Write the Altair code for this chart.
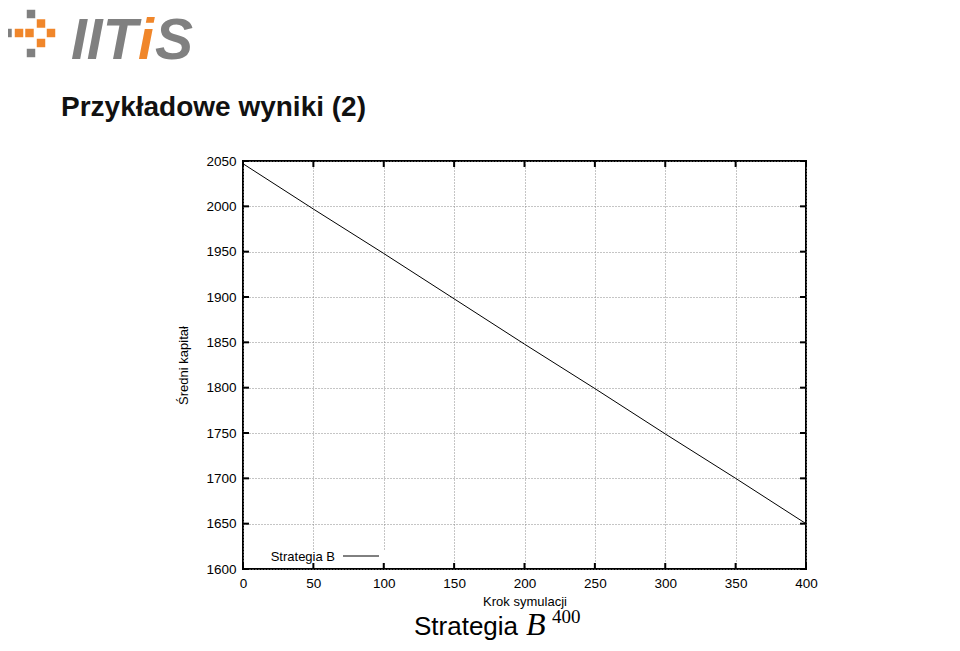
import altair as alt
import pandas as pd

# ---- data ----
steps = [0, 50, 100, 150, 200, 250, 300, 350, 400]
capital = [2047, 1997, 1948, 1898, 1848, 1799, 1749, 1700, 1650]
x_ticks = [0, 50, 100, 150, 200, 250, 300, 350, 400]
y_ticks = [1600, 1650, 1700, 1750, 1800, 1850, 1900, 1950, 2000, 2050]
series_name = "Strategia B"
title_text = "Przykładowe wyniki (2)"
x_title = "Krok symulacji"
y_title = "Średni kapitał"
caption_word = "Strategia"
caption_sym = "B"
caption_sup = "400"

W, H = 563, 408
FONT = "Liberation Sans"

df = pd.DataFrame({"step": steps, "capital": capital})
xt = pd.DataFrame({"step": x_ticks})
yt = pd.DataFrame({"capital": y_ticks})
one = pd.DataFrame({"a": [0]})

xscale = alt.Scale(domain=[0, 400], nice=False, zero=False)
yscale = alt.Scale(domain=[1600, 2050], nice=False, zero=False)
x_axis = alt.Axis(values=x_ticks, title=x_title, format="d", labelFlush=False,
                  labelPadding=7, titlePadding=6, grid=True)
y_axis = alt.Axis(values=y_ticks, title=y_title, format="d", labelFlush=False,
                  labelPadding=7, titlePadding=15, grid=True)

X = alt.X("step:Q", scale=xscale, axis=x_axis)
Y = alt.Y("capital:Q", scale=yscale, axis=y_axis)

line = alt.Chart(df).mark_line(color="black", strokeWidth=1).encode(x=X, y=Y)

# white key background (gnuplot key area)
key_bg = alt.Chart(one).mark_rect(color="white").encode(
    x=alt.value(22), x2=alt.value(146), y=alt.value(390), y2=alt.value(402)
)

# inward ticks, gnuplot style (mirrored)
tick_style = dict(color="black", strokeWidth=2)
yl = alt.Chart(yt).mark_rule(**tick_style).encode(y=Y, x=alt.value(0), x2=alt.value(6))
yr = alt.Chart(yt).mark_rule(**tick_style).encode(y=Y, x=alt.value(W - 6), x2=alt.value(W))
xb = alt.Chart(xt).mark_rule(**tick_style).encode(x=X, y=alt.value(H - 6), y2=alt.value(H))
xtp = alt.Chart(xt).mark_rule(**tick_style).encode(x=X, y=alt.value(0), y2=alt.value(6))

# key
key_text = alt.Chart(one).mark_text(
    text=series_name, font=FONT, fontSize=13, align="right", baseline="alphabetic",
    color="black").encode(x=alt.value(92), y=alt.value(400))
key_line = alt.Chart(one).mark_rule(color="black", strokeWidth=1).encode(
    x=alt.value(100), x2=alt.value(136), y=alt.value(395))

# slide title
title = alt.Chart(one).mark_text(
    text=title_text, font=FONT, fontSize=28, fontWeight="bold", align="left",
    baseline="alphabetic", color="#111111").encode(x=alt.value(-182), y=alt.value(-45))

# caption under chart
cap1 = alt.Chart(one).mark_text(
    text=caption_word, font=FONT, fontSize=26, align="left", baseline="alphabetic",
    color="black").encode(x=alt.value(171), y=alt.value(474))
cap2 = alt.Chart(one).mark_text(
    text=caption_sym, font="Liberation Serif", fontSize=32, fontStyle="italic",
    align="left", baseline="alphabetic", color="black").encode(x=alt.value(283), y=alt.value(474))
cap3 = alt.Chart(one).mark_text(
    text=caption_sup, font="Liberation Serif", fontSize=19, align="left",
    baseline="alphabetic", color="black").encode(x=alt.value(309), y=alt.value(462))

# logo (decoration)
GRAY = "#808080"
ORANGE = "#f0862a"
cells = [(31, 14, GRAY), (41, 23.5, ORANGE), (7.5, 33, GRAY), (19, 33, ORANGE),
         (29.5, 33, ORANGE), (51, 33, ORANGE), (41, 43, ORANGE), (31, 53, GRAY)]
logo_layers = []
for cx, cy, col in cells:
    logo_layers.append(
        alt.Chart(one).mark_square(size=72, color=col, opacity=1, filled=True).encode(
            x=alt.value(cx - 243), y=alt.value(cy - 161)))
logo_font = dict(font=FONT, fontSize=57, fontWeight="bold", fontStyle="italic",
                 align="left", baseline="alphabetic")
logo_layers.append(alt.Chart(one).mark_text(text="IIT", color=GRAY, **logo_font).encode(
    x=alt.value(-172), y=alt.value(-102)))
logo_layers.append(alt.Chart(one).mark_text(text="i", color=ORANGE, **logo_font).encode(
    x=alt.value(-105), y=alt.value(-102)))
logo_layers.append(alt.Chart(one).mark_text(text="S", color=GRAY, **logo_font).encode(
    x=alt.value(-88), y=alt.value(-102)))

chart = alt.layer(
    line, key_bg, yl, yr, xb, xtp, key_text, key_line, title, cap1, cap2, cap3,
    *logo_layers
).properties(
    width=W, height=H,
    padding={"left": 235, "top": 153, "right": 146, "bottom": 74},
    autosize=alt.AutoSizeParams(type="none"),
    background="white",
).configure_view(
    stroke="black", strokeWidth=2
).configure_axis(
    domain=False, ticks=False,
    labelFont=FONT, labelFontSize=13.5, labelColor="black",
    titleFont=FONT, titleFontSize=13, titleFontWeight="normal", titleColor="black",
    gridColor="#8a8a8a", gridDash=[1, 2], gridWidth=1, gridOpacity=1,
)

chart.save("out.html", embed_options={"renderer": "svg", "actions": False})
